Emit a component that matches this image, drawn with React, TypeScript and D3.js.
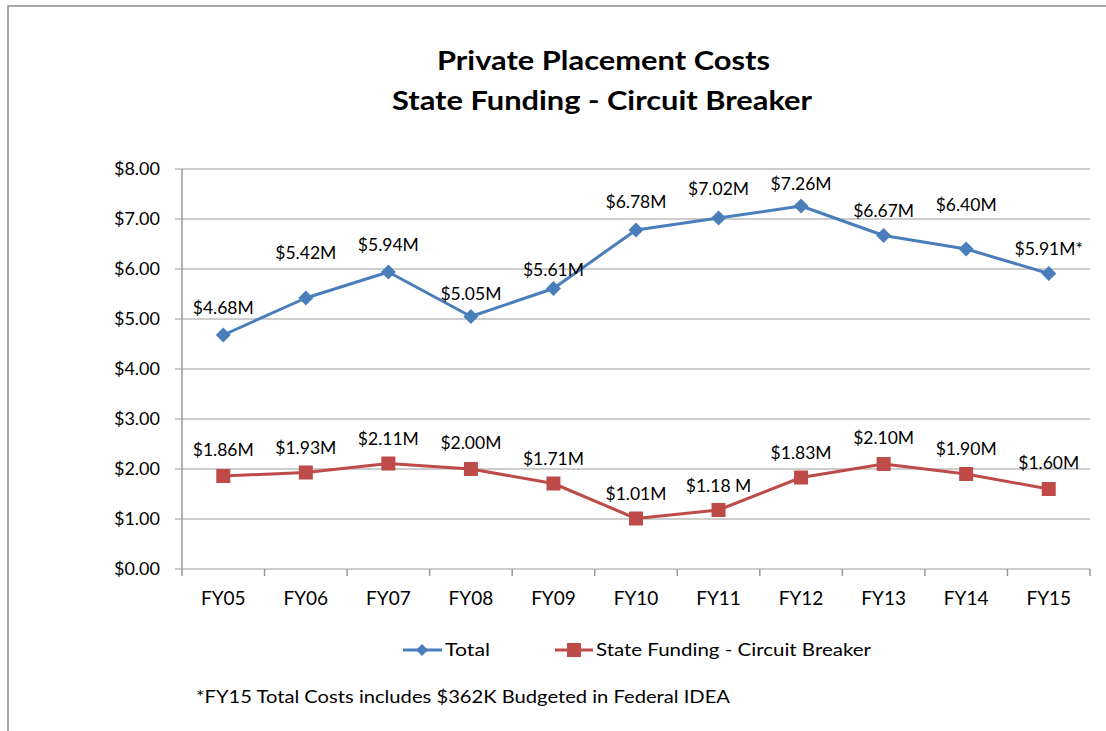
import React from "react";
import * as d3 from "d3";

const categories = ["FY05", "FY06", "FY07", "FY08", "FY09", "FY10", "FY11", "FY12", "FY13", "FY14", "FY15"];
const totalValues = [4.68, 5.42, 5.94, 5.05, 5.61, 6.78, 7.02, 7.26, 6.67, 6.4, 5.91];
const totalLabels = ["$4.68M", "$5.42M", "$5.94M", "$5.05M", "$5.61M", "$6.78M", "$7.02M", "$7.26M", "$6.67M", "$6.40M", "$5.91M*"];
const stateValues = [1.86, 1.93, 2.11, 2.0, 1.71, 1.01, 1.18, 1.83, 2.1, 1.9, 1.6];
const stateLabels = ["$1.86M", "$1.93M", "$2.11M", "$2.00M", "$1.71M", "$1.01M", "$1.18 M", "$1.83M", "$2.10M", "$1.90M", "$1.60M"];
const yTicks = [0, 1, 2, 3, 4, 5, 6, 7, 8];

// label vertical offsets (layout, px above point)
const totalLabelDy = [-27, -45, -27, -23, -19, -28, -29, -22, -25, -44, -25];
const stateLabelDy = [-26, -25, -25, -26, -25, -25, -24, -25, -26, -25, -26];

const BLUE = "#4A7EBB";
const RED = "#BE4B48";
const FONT = "Lato, 'Open Sans', sans-serif";

export default function App() {
  const W = 1106, H = 731;
  const left = 182, right = 1090, top = 169, bottom = 569;
  const x = d3.scaleBand<string>().domain(categories).range([left, right]);
  const cx = (c: string) => (x(c) as number) + x.bandwidth() / 2;
  const y = d3.scaleLinear().domain([0, 8]).range([bottom, top]);
  const line = d3.line<number>().x((_, i) => cx(categories[i])).y((v) => y(v));

  const diamond = (px: number, py: number, r: number) =>
    `M${px},${py - r}L${px + r},${py}L${px},${py + r}L${px - r},${py}Z`;

  return (
    <svg width={W} height={H} style={{ position: "absolute", left: 0, top: 0 }} fontFamily={FONT}>
      <rect x={0} y={0} width={W} height={H} fill="#fff" />
      <rect x={8} y={6} width={W + 20} height={H + 20} fill="none" stroke="#8c8c8c" strokeWidth={1.5} />
      <text x={437} y={70} textLength={333} lengthAdjust="spacingAndGlyphs" fontSize={27} fontWeight="bold" fill="#000">Private Placement Costs</text>
      <text x={392} y={110} textLength={420} lengthAdjust="spacingAndGlyphs" fontSize={27} fontWeight="bold" fill="#000">State Funding - Circuit Breaker</text>

      {yTicks.map((t) => (
        <g key={t}>
          <line x1={left - 7} x2={right} y1={y(t)} y2={y(t)} stroke="#bcbcbc" strokeWidth={1.5} />
          <text x={160} y={y(t)} dy="0.35em" textAnchor="end" fontSize={18} fill="#000">
            {d3.format("$.2f")(t)}
          </text>
        </g>
      ))}
      <line x1={left} x2={left} y1={top} y2={bottom + 7} stroke="#999" strokeWidth={1.5} />
      {categories.map((c, i) => (
        <g key={c}>
          <line x1={(x(c) as number) + x.bandwidth()} x2={(x(c) as number) + x.bandwidth()} y1={bottom} y2={bottom + 7} stroke="#999" strokeWidth={1.5} />
          <text x={cx(c)} y={605} textAnchor="middle" fontSize={19} fill="#000">{c}</text>
        </g>
      ))}

      <path d={line(totalValues) || ""} fill="none" stroke={BLUE} strokeWidth={3} strokeLinejoin="round" />
      {totalValues.map((v, i) => (
        <path key={i} d={diamond(cx(categories[i]), y(v), 7.5)} fill={BLUE} />
      ))}
      <path d={line(stateValues) || ""} fill="none" stroke={RED} strokeWidth={3} strokeLinejoin="round" />
      {stateValues.map((v, i) => (
        <rect key={i} x={cx(categories[i]) - 7} y={y(v) - 7} width={14} height={14} fill={RED} />
      ))}

      {totalValues.map((v, i) => (
        <text key={i} x={cx(categories[i])} y={y(v) + totalLabelDy[i]} dy="0.35em" textAnchor="middle" fontSize={17.5} fill="#000">
          {totalLabels[i]}
        </text>
      ))}
      {stateValues.map((v, i) => (
        <text key={i} x={cx(categories[i])} y={y(v) + stateLabelDy[i]} dy="0.35em" textAnchor="middle" fontSize={17.5} fill="#000">
          {stateLabels[i]}
        </text>
      ))}

      <g>
        <line x1={403} x2={442} y1={650} y2={650} stroke={BLUE} strokeWidth={3} />
        <path d={diamond(422, 650, 6)} fill={BLUE} />
        <text x={445} y={650} dy="0.35em" textLength={45} lengthAdjust="spacingAndGlyphs" fontSize={18} fill="#000">Total</text>
        <line x1={555} x2={593} y1={650} y2={650} stroke={RED} strokeWidth={3} />
        <rect x={567} y={643} width={14} height={14} fill={RED} />
        <text x={596} y={650} dy="0.35em" textLength={275} lengthAdjust="spacingAndGlyphs" fontSize={18} fill="#000">State Funding - Circuit Breaker</text>
      </g>
      <text x={196} y={697} dy="0.35em" textLength={534} lengthAdjust="spacingAndGlyphs" fontSize={17} fill="#000">*FY15 Total Costs includes $362K Budgeted in Federal IDEA</text>
    </svg>
  );
}
